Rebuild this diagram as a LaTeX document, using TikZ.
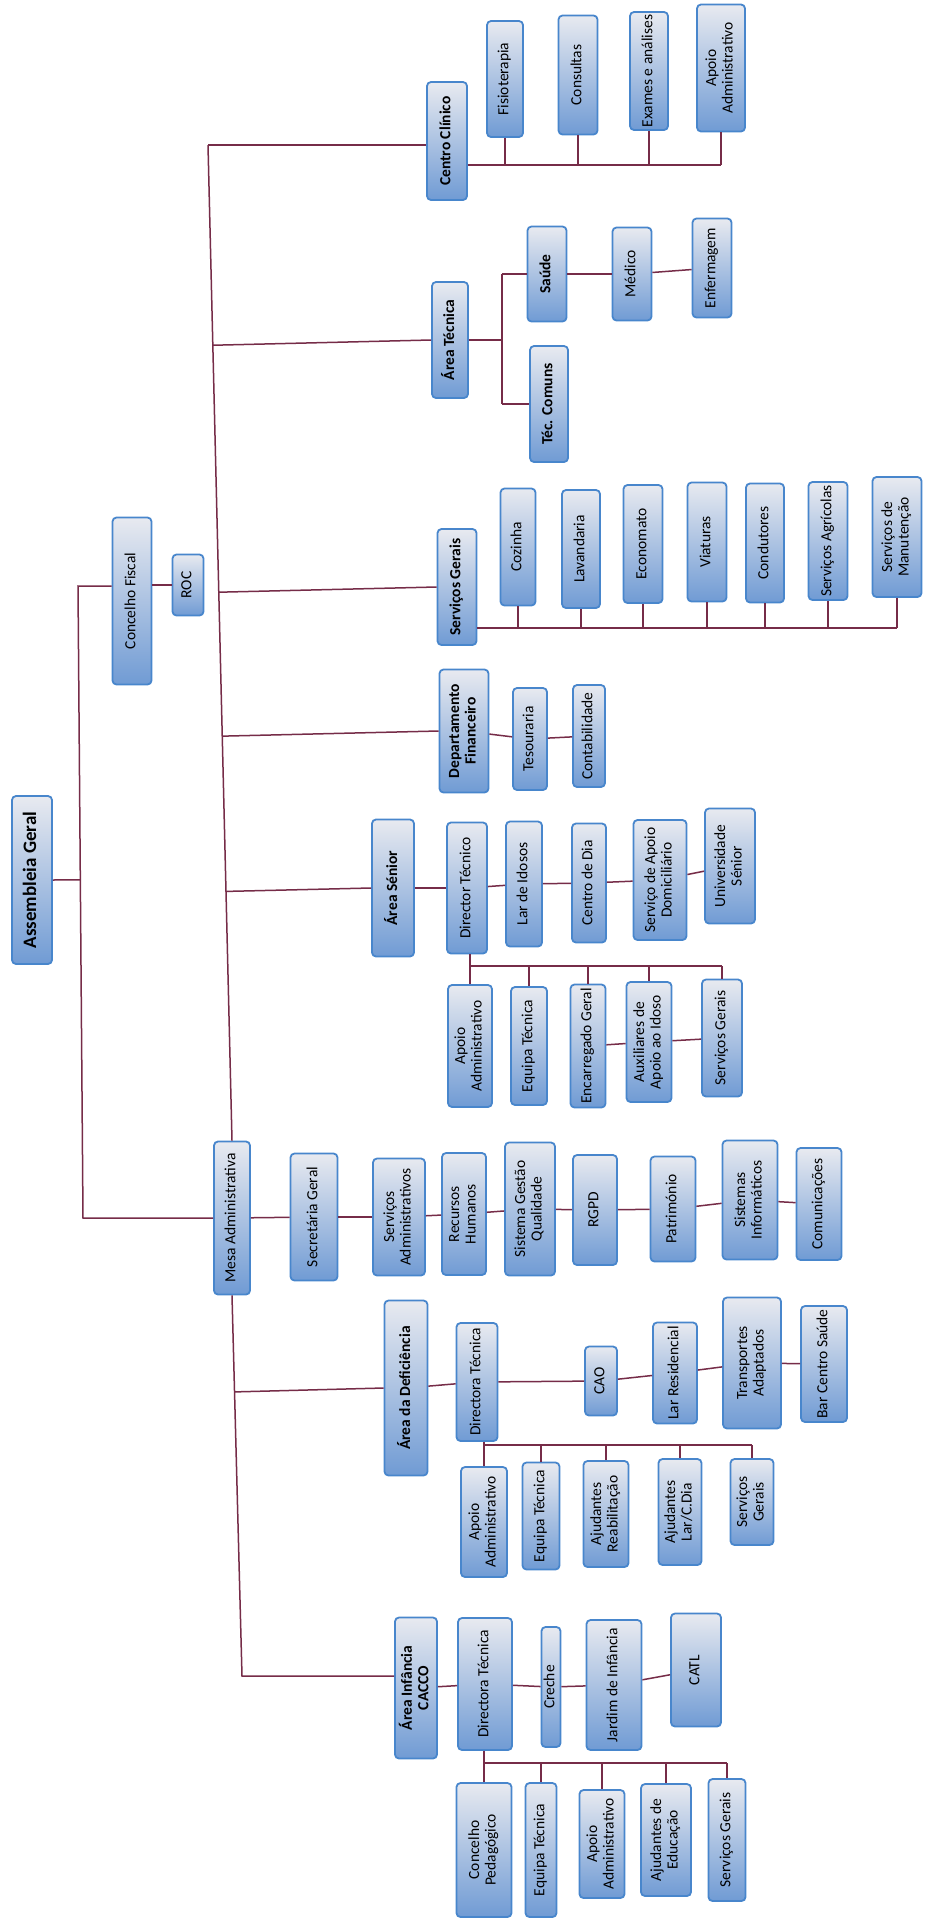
\documentclass[tikz,border=0pt]{standalone}
\usepackage{fontspec}
\setmainfont{Carlito}
\usepackage{graphicx}
\usetikzlibrary{calc}
\definecolor{boxline}{RGB}{72,134,204}
\definecolor{boxtop}{RGB}{232,234,240}
\definecolor{boxbot}{RGB}{112,155,212}
\definecolor{linkcol}{RGB}{118,44,72}
\newcommand{\boxfont}{\fontsize{15.5}{16.5}\selectfont}
\newcommand{\vt}[1]{\rotatebox{90}{\begin{tabular}{@{}c@{}}#1\end{tabular}}}
\tikzset{
  org/.style 2 args={draw=boxline, line width=1.8pt, rounded corners=4pt, top color=boxtop, bottom color=boxbot, inner sep=0pt, minimum width=#1pt, minimum height=#2pt, font=\boxfont},
  head/.style={font=\boxfont\bfseries},
  link/.style={draw=linkcol, line width=1.5pt}
}
\begin{document}
\begin{tikzpicture}[x=1pt, y=-1pt]
\fill[white] (0,0) rectangle (926,1925);
\useasboundingbox (0,0) rectangle (926,1925);
% direccao
\node[org={40}{168}, font=\fontsize{19}{21}\selectfont\bfseries] (ag) at (32,880) {\vt{Assembleia Geral}};
\node[org={39}{167}] (cf) at (132,601) {\vt{Concelho Fiscal}};
\node[org={31}{61}] (roc) at (188,585) {\vt{ROC}};
\node[org={36}{153}] (mesa) at (232,1218) {\vt{Mesa Administrativa}};
% centro clinico
\node[org={40}{118}, head] (cc) at (447,141) {\vt{Centro Clínico}};
\node[org={36}{116}] (fis) at (505,79) {\vt{Fisioterapia}};
\node[org={39}{119}] (cons) at (578,75) {\vt{Consultas}};
\node[org={38}{118}] (exa) at (649,71) {\vt{Exames e análises}};
\node[org={48}{127}] (ccapo) at (721,68) {\vt{Apoio\\Administrativo}};
% area tecnica
\node[org={36}{116}, head] (at) at (450,340) {\vt{Área Técnica}};
\node[org={39}{95}, head] (sau) at (547,274) {\vt{Saúde}};
\node[org={39}{93}] (med) at (632,274) {\vt{Médico}};
\node[org={39}{99}] (enf) at (712,268) {\vt{Enfermagem}};
\node[org={38}{116}, head] (tec) at (549,404) {\vt{Téc. Comuns}};
% servicos gerais
\node[org={39}{116}, head] (sg) at (457,587) {\vt{Serviços Gerais}};
\node[org={35}{117}] (coz) at (518,547) {\vt{Cozinha}};
\node[org={38}{118}] (lav) at (581,549) {\vt{Lavandaria}};
\node[org={39}{118}] (eco) at (643,544) {\vt{Economato}};
\node[org={39}{119}] (via) at (707,542) {\vt{Viaturas}};
\node[org={38}{119}] (cond) at (765,543) {\vt{Condutores}};
\node[org={39}{118}] (agr) at (828,541) {\vt{Serviços Agrícolas}};
\node[org={49}{120}] (man) at (897,537) {\vt{Serviços de\\Manutenção}};
% financeiro
\node[org={49}{123}, head] (df) at (464,731) {\vt{Departamento\\Financeiro}};
\node[org={34}{102}] (tes) at (530,739) {\vt{Tesouraria}};
\node[org={32}{102}] (cont) at (589,736) {\vt{Contabilidade}};
% area senior
\node[org={42}{137}, head] (as) at (393,888) {\vt{Área Sénior}};
\node[org={40}{131}] (asdt) at (467,888) {\vt{Director Técnico}};
\node[org={36}{125}] (lar) at (524,884) {\vt{Lar de Idosos}};
\node[org={34}{119}] (cdia) at (589,883) {\vt{Centro de Dia}};
\node[org={53}{120}] (sad) at (660,880) {\vt{Serviço de Apoio\\Domiciliário}};
\node[org={50}{115}] (us) at (730,866) {\vt{Universidade\\Sénior}};
\node[org={44}{122}] (asapo) at (470,1046) {\vt{Apoio\\Administrativo}};
\node[org={36}{118}] (aseq) at (529,1046) {\vt{Equipa Técnica}};
\node[org={35}{123}] (enc) at (588,1046) {\vt{Encarregado Geral}};
\node[org={45}{120}] (aux) at (649,1042) {\vt{Auxiliares de\\Apoio ao Idoso}};
\node[org={40}{117}] (assg) at (722,1038) {\vt{Serviços Gerais}};
% secretaria
\node[org={47}{127}] (sec) at (314,1217) {\vt{Secretária Geral}};
\node[org={52}{117}] (sadm) at (399,1217) {\vt{Serviços\\Administrativos}};
\node[org={44}{122}] (rh) at (464,1214) {\vt{Recursos\\Humanos}};
\node[org={50}{133}] (sgq) at (530,1209) {\vt{Sistema Gestão\\Qualidade}};
\node[org={44}{110}] (rgpd) at (595,1210) {\vt{RGPD}};
\node[org={45}{105}] (pat) at (673,1209) {\vt{Património}};
\node[org={55}{119}] (si) at (750,1200) {\vt{Sistemas\\Informáticos}};
\node[org={45}{112}] (com) at (819,1204) {\vt{Comunicações}};
% deficiencia
\node[org={43}{175}, head] (ad) at (406,1388) {\vt{Área da Deficiência}};
\node[org={41}{118}] (addt) at (477,1382) {\vt{Directora Técnica}};
\node[org={32}{69}] (cad) at (601,1381) {\vt{CAO}};
\node[org={44}{101}] (lres) at (675,1373) {\vt{Lar Residencial}};
\node[org={58}{131}] (tra) at (752,1363) {\vt{Transportes\\Adaptados}};
\node[org={46}{116}] (bar) at (824,1364) {\vt{Bar Centro Saúde}};
\node[org={46}{110}] (adapo) at (484,1522) {\vt{Apoio\\Administrativo}};
\node[org={37}{107}] (adeq) at (541,1516) {\vt{Equipa Técnica}};
\node[org={45}{106}] (ajr) at (606,1514) {\vt{Ajudantes\\Reabilitação}};
\node[org={43}{106}] (ajl) at (680,1512) {\vt{Ajudantes\\Lar/C.Dia}};
\node[org={43}{86}] (adsg) at (752,1502) {\vt{Serviços\\Gerais}};
% infancia
\node[org={42}{141}, head] (ai) at (416,1688) {\vt{Área Infância\\CACCO}};
\node[org={54}{132}] (aidt) at (485,1684) {\vt{Directora Técnica}};
\node[org={19}{120}] (cre) at (551,1687) {\vt{Creche}};
\node[org={55}{130}] (jar) at (614,1685) {\vt{Jardim de Infância}};
\node[org={50}{113}] (catl) at (696,1670) {\vt{CATL}};
\node[org={55}{134}] (cp) at (484,1850) {\vt{Concelho\\Pedagógico}};
\node[org={31}{134}] (aieq) at (541,1850) {\vt{Equipa Técnica}};
\node[org={45}{108}] (aiapo) at (602,1844) {\vt{Apoio\\Administrativo}};
\node[org={50}{112}] (aje) at (666,1840) {\vt{Ajudantes de\\Educação}};
\node[org={37}{122}] (aisg) at (727,1840) {\vt{Serviços Gerais}};
% barramentos
\coordinate (mt) at (208,145);
\coordinate (mb) at (242,1676);
\coordinate (lt) at (78,586);
\coordinate (lb) at (83,1218);
\coordinate (ccb) at (0,165);
\coordinate (atf) at (502,0);
\coordinate (sgb) at (0,628);
\coordinate (asb) at (0,966);
\coordinate (adb) at (0,1445);
\coordinate (aib) at (0,1763);
% ligacoes
\draw[link] (lt -| cf.west) -- (lt) -- (lb) -- (mesa.west);
\draw[link] (ag.east) -- ($(lt)!(ag.east)!(lb)$);
\draw[link] (cf.east |- roc) -- (roc.west);
\draw[link] (mt) -- (mesa.north);
\draw[link] (mesa.south) -- (mb) -- (mb -| ai.west);
\draw[link] (mt) -- (mt -| cc.west);
\draw[link] ($(mt)!(at.west)!(mesa.north)$) -- (at.west);
\draw[link] ($(mt)!(sg.west)!(mesa.north)$) -- (sg.west);
\draw[link] ($(mt)!(df.west)!(mesa.north)$) -- (df.west);
\draw[link] ($(mt)!(as.west)!(mesa.north)$) -- (as.west);
\draw[link] ($(mesa.south)!(ad.west)!(mb)$) -- (ad.west);
% centro clinico
\draw[link] (cc.east |- ccb) -- (ccapo.south |- ccb);
\draw[link] (fis.south) -- (fis.south |- ccb);
\draw[link] (cons.south) -- (cons.south |- ccb);
\draw[link] (exa.south) -- (exa.south |- ccb);
\draw[link] (ccapo.south) -- (ccapo.south |- ccb);
% area tecnica
\draw[link] (at.east) -- (at.east -| atf);
\draw[link] (atf |- sau) -- (atf |- tec);
\draw[link] (atf |- sau) -- (sau.west);
\draw[link] (atf |- tec) -- (tec.west);
\draw[link] (sau) -- (med);
\draw[link] (med) -- (enf);
% servicos gerais
\draw[link] (sg.east |- sgb) -- (man.south |- sgb);
\draw[link] (coz.south) -- (coz.south |- sgb);
\draw[link] (lav.south) -- (lav.south |- sgb);
\draw[link] (eco.south) -- (eco.south |- sgb);
\draw[link] (via.south) -- (via.south |- sgb);
\draw[link] (cond.south) -- (cond.south |- sgb);
\draw[link] (agr.south) -- (agr.south |- sgb);
\draw[link] (man.south) -- (man.south |- sgb);
% financeiro
\draw[link] (df) -- (tes);
\draw[link] (tes) -- (cont);
% area senior
\draw[link] (as) -- (asdt);
\draw[link] (asdt) -- (lar);
\draw[link] (lar) -- (cdia);
\draw[link] (cdia) -- (sad);
\draw[link] (sad) -- (us);
\draw[link] (asapo.north |- asdt.south) -- (asapo.north);
\draw[link] (asapo.north |- asb) -- (assg.north |- asb);
\draw[link] (aseq.north |- asb) -- (aseq.north);
\draw[link] (enc.north |- asb) -- (enc.north);
\draw[link] (aux.north |- asb) -- (aux.north);
\draw[link] (assg.north |- asb) -- (assg.north);
\draw[link] (enc) -- (aux);
\draw[link] (aux) -- (assg);
% secretaria
\draw[link] (mesa) -- (sec);
\draw[link] (sec) -- (sadm);
\draw[link] (sadm) -- (rh);
\draw[link] (rh) -- (sgq);
\draw[link] (sgq) -- (rgpd);
\draw[link] (rgpd) -- (pat);
\draw[link] (pat) -- (si);
\draw[link] (si) -- (com);
% deficiencia
\draw[link] (ad) -- (addt);
\draw[link] (addt) -- (cad);
\draw[link] (cad) -- (lres);
\draw[link] (lres) -- (tra);
\draw[link] (tra) -- (bar);
\draw[link] (adapo.north |- addt.south) -- (adapo.north);
\draw[link] (adapo.north |- adb) -- (adsg.north |- adb);
\draw[link] (adeq.north |- adb) -- (adeq.north);
\draw[link] (ajr.north |- adb) -- (ajr.north);
\draw[link] (ajl.north |- adb) -- (ajl.north);
\draw[link] (adsg.north |- adb) -- (adsg.north);
% infancia
\draw[link] (ai) -- (aidt);
\draw[link] (aidt) -- (cre);
\draw[link] (cre) -- (jar);
\draw[link] (jar) -- (catl);
\draw[link] (cp.north |- aidt.south) -- (cp.north);
\draw[link] (cp.north |- aib) -- (aisg.north |- aib);
\draw[link] (aieq.north |- aib) -- (aieq.north);
\draw[link] (aiapo.north |- aib) -- (aiapo.north);
\draw[link] (aje.north |- aib) -- (aje.north);
\draw[link] (aisg.north |- aib) -- (aisg.north);
\end{tikzpicture}
\end{document}
